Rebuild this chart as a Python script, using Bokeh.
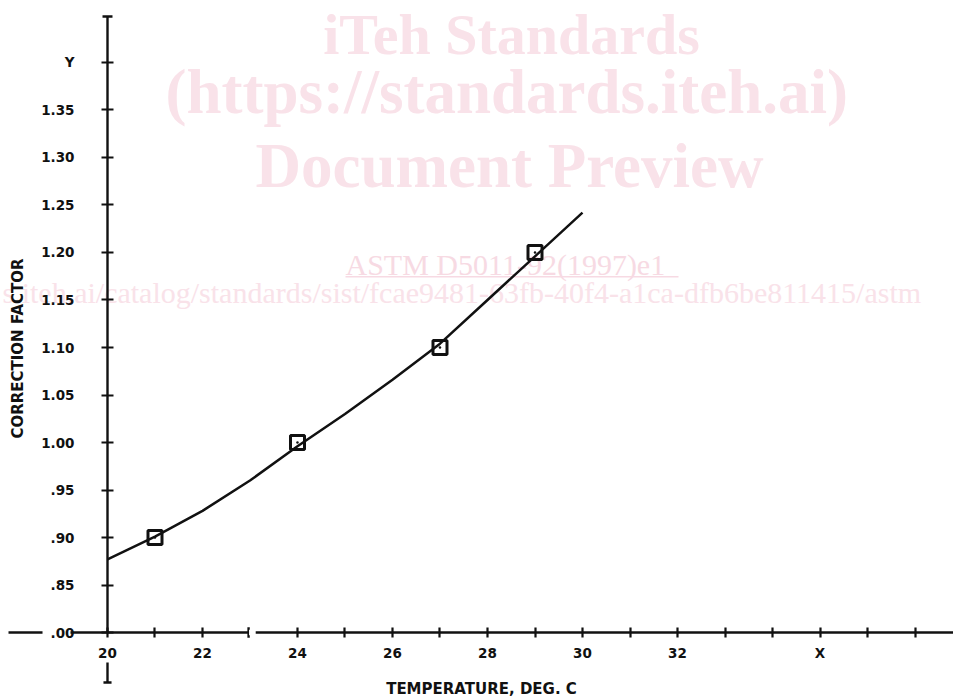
import math
from bokeh.plotting import figure
from bokeh.models import Range1d, LinearAxis, FixedTicker, Label, BoxAnnotation
from bokeh.embed import file_html
from bokeh.resources import INLINE

# ---------------- data ----------------
temp_points = [21, 24, 27, 29]
factor_points = [0.90, 1.00, 1.10, 1.20]

curve_temp = [20, 21, 22, 23, 24, 25, 26, 27, 28, 29, 30]
curve_factor = [0.877, 0.901, 0.928, 0.960, 0.996, 1.030, 1.066, 1.104, 1.150, 1.196, 1.242]

x_ticks = [20, 21, 22, 24, 25, 26, 27, 28, 29, 30, 31, 32, 33, 34, 35, 36, 37]
x_tick_labels = {20: "20", 22: "22", 24: "24", 26: "26", 28: "28", 30: "30", 32: "32", 35: "X"}

y_ticks = [0.80, 0.85, 0.90, 0.95, 1.00, 1.05, 1.10, 1.15, 1.20, 1.25, 1.30, 1.35, 1.40]
y_tick_labels = {0.80: ".00", 0.85: ".85", 0.90: ".90", 0.95: ".95", 1.00: "1.00",
                 1.05: "1.05", 1.10: "1.10", 1.15: "1.15", 1.20: "1.20", 1.25: "1.25",
                 1.30: "1.30", 1.35: "1.35", 1.40: "Y"}

x_title = "TEMPERATURE, DEG. C"
y_title = "CORRECTION FACTOR"

wm_big = ["iTeh Standards", "(https://standards.iteh.ai)", "Document Preview"]
wm_astm = "ASTM D5011-92(1997)e1"
wm_url = "s.iteh.ai/catalog/standards/sist/fcae9481-63fb-40f4-a1ca-dfb6be811415/astm"

# ---------------- layout ----------------
W, H = 953, 698
X0, X1 = 17.7474, 37.8105
Y0, Y1 = 0.73053, 1.46526
ORIGIN_X, ORIGIN_Y = 20, 0.80
Y_AXIS_TOP = 1.4484
X_AXIS_START = 19.221
STUB = (17.916, 18.632)
BREAK = (22.98, 23.12)

FONT = "DejaVu Sans"
INK = "#111111"
PINK = "#f9e2e9"
PINK2 = "#f7dae3"

p = figure(width=W, height=H, x_range=Range1d(X0, X1), y_range=Range1d(Y0, Y1),
           output_backend="svg", toolbar_location=None,
           x_axis_type=None, y_axis_type=None, min_border=0)
p.outline_line_color = None
p.background_fill_color = "white"
p.border_fill_color = "white"

# watermark (underlay); screen y measured from the bottom
wm_specs = [("center", 511, 664, "58px"), ("left", 165, 607, "63px"), ("left", 255, 533, "63px")]
for txt, (al, sx, sy, fs) in zip(wm_big, wm_specs):
    p.add_layout(Label(x=sx, y=sy, x_units="screen", y_units="screen", text=txt,
                       text_font="Liberation Serif", text_font_style="bold",
                       text_font_size=fs, text_color=PINK, text_align=al,
                       text_baseline="middle", level="underlay"))
p.add_layout(Label(x=345, y=434, x_units="screen", y_units="screen", text=wm_astm,
                   text_font="Liberation Serif", text_font_size="30px", text_color=PINK2,
                   text_align="left", text_baseline="middle", level="underlay"))
p.add_layout(BoxAnnotation(left=345, right=678, bottom=421, top=422.5,
                           left_units="screen", right_units="screen",
                           bottom_units="screen", top_units="screen",
                           fill_color=PINK2, fill_alpha=1, line_color=None, level="underlay"))
p.add_layout(Label(x=2, y=406, x_units="screen", y_units="screen", text=wm_url,
                   text_font="Liberation Serif", text_font_size="30px", text_color=PINK,
                   text_align="left", text_baseline="middle", level="underlay"))

# curve and points
p.line(curve_temp, curve_factor, line_color=INK, line_width=2.5)
p.scatter(temp_points, factor_points, marker="square", size=14, fill_color="white",
          fill_alpha=0.0, line_color=INK, line_width=3)
p.scatter(temp_points, factor_points, marker="circle", size=2.5, fill_color=INK, line_color=None)

# axes
xaxis = LinearAxis(fixed_location=ORIGIN_Y, ticker=FixedTicker(ticks=x_ticks, minor_ticks=[]),
                   major_label_overrides={t: x_tick_labels.get(t, "") for t in x_ticks},
                   bounds=(X_AXIS_START, X1))
yaxis = LinearAxis(fixed_location=ORIGIN_X, ticker=FixedTicker(ticks=y_ticks, minor_ticks=[]),
                   major_label_overrides=y_tick_labels, bounds=(ORIGIN_Y, Y_AXIS_TOP))
for ax in (xaxis, yaxis):
    ax.axis_line_color = INK
    ax.axis_line_width = 2.4
    ax.major_tick_line_color = INK
    ax.major_tick_line_width = 2.2
    ax.minor_tick_line_color = None
    ax.major_label_text_font = FONT
    ax.major_label_text_font_style = "bold"
    ax.major_label_text_font_size = "13.5px"
    ax.major_label_text_color = INK
xaxis.major_tick_in = 5
xaxis.major_tick_out = 5
xaxis.major_label_standoff = 7
yaxis.major_tick_in = 6
yaxis.major_tick_out = 6
yaxis.major_label_standoff = 27
p.add_layout(xaxis, "below")
p.add_layout(yaxis, "left")

# axis decorations: left stub, break, caps
p.segment(x0=[STUB[0]], y0=[ORIGIN_Y], x1=[STUB[1]], y1=[ORIGIN_Y], line_color=INK, line_width=2.4)
p.add_layout(BoxAnnotation(left=BREAK[0], right=BREAK[1], bottom=ORIGIN_Y - 0.003, top=ORIGIN_Y + 0.003,
                           fill_color="white", fill_alpha=1, line_color=None))
p.segment(x0=[BREAK[0] - 0.01], y0=[ORIGIN_Y - 0.0055], x1=[BREAK[0] - 0.01], y1=[ORIGIN_Y + 0.0055],
          line_color=INK, line_width=2.4)
p.segment(x0=[ORIGIN_X - 0.105], y0=[Y_AXIS_TOP], x1=[ORIGIN_X + 0.105], y1=[Y_AXIS_TOP],
          line_color=INK, line_width=2.4)
p.segment(x0=[ORIGIN_X, ORIGIN_X - 0.085], y0=[0.7684, 0.7474], x1=[ORIGIN_X, ORIGIN_X + 0.085],
          y1=[0.7474, 0.7474], line_color=INK, line_width=2.4)

# axis titles
p.add_layout(Label(x=17, y=350, x_units="screen", y_units="screen", text=y_title,
                   angle=math.pi / 2, text_font=FONT, text_font_style="bold",
                   text_font_size="15px", text_color=INK, text_align="center",
                   text_baseline="middle"))
p.add_layout(Label(x=481, y=10, x_units="screen", y_units="screen", text=x_title,
                   text_font=FONT, text_font_style="bold", text_font_size="15px",
                   text_color=INK, text_align="center", text_baseline="middle"))

open("out.html", "w").write(file_html(p, INLINE))
